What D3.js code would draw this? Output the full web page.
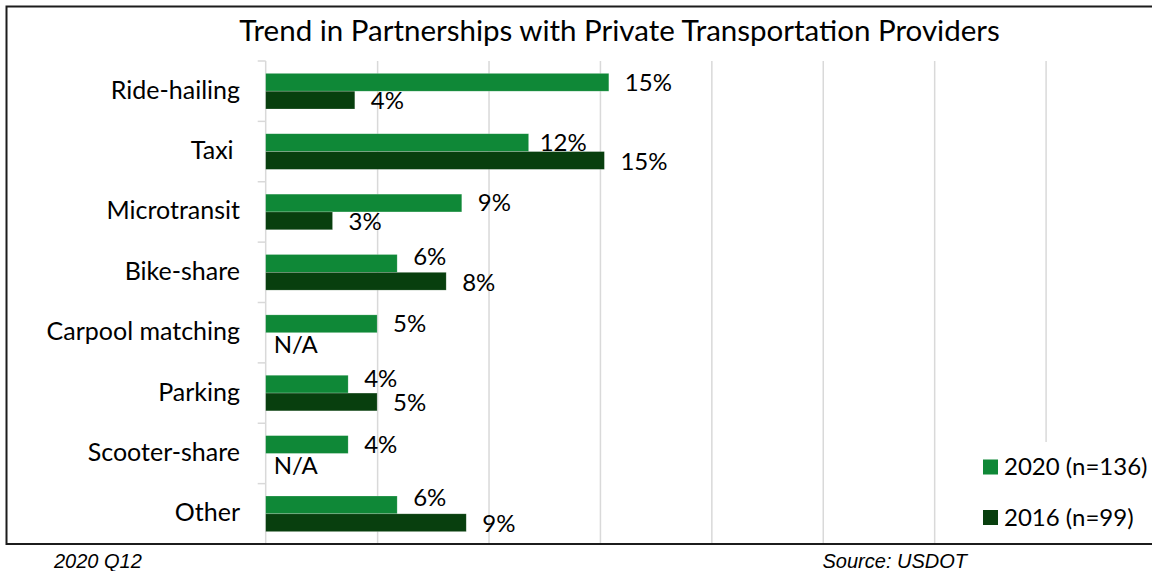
<!DOCTYPE html>
<html>
<head>
<meta charset="utf-8">
<script src="https://cdn.jsdelivr.net/npm/d3@7"></script>
<style>
  html, body { margin: 0; padding: 0; background: #fff; }
  svg { display: block; }
</style>
</head>
<body>
<svg id="chart" width="1152" height="571"></svg>
<script>
// Partnership categories, top to bottom
const categories = ["Ride-hailing", "Taxi\u00A0", "Microtransit", "Bike-share",
                    "Carpool matching", "Parking", "Scooter-share", "Other"];
// Share of agencies partnering, by survey year (null = not asked that year)
const values2020 = [0.154, 0.118, 0.088, 0.059, 0.050, 0.037, 0.037, 0.059];
const values2016 = [0.040, 0.152, 0.030, 0.081, null, 0.050, null, 0.090];
const seriesNames = ["2020 (n=136)", "2016 (n=99)"];
const xTicks = [0, 0.05, 0.10, 0.15, 0.20, 0.25, 0.30, 0.35, 0.40];
const titleText = "Trend in Partnerships with Private Transportation Providers";
const footLeft = "2020 Q12";
const footRight = "Source: USDOT";
const missingLabel = "N/A";

const colors = { "2020 (n=136)": "#0f8837", "2016 (n=99)": "#083f0e" };
const labelFont = "Lato, 'Open Sans', sans-serif";

const svg = d3.select("#chart");

const plot = { left: 265.7, right: 1157, top: 61, bottom: 544 };

const x = d3.scaleLinear().domain([0, 0.4]).range([plot.left, plot.right]);
const y = d3.scaleBand().domain(categories).range([plot.top, plot.bottom])
  .paddingInner(0.41).paddingOuter(0.205);
const ySeries = d3.scaleBand().domain(seriesNames).range([0, y.bandwidth()]);

// vertical gridlines
svg.append("g")
  .attr("transform", `translate(0,${plot.bottom})`)
  .call(d3.axisBottom(x).tickValues(xTicks.slice(1)).tickSize(-(plot.bottom - plot.top)).tickFormat(""))
  .call(g => g.select(".domain").remove())
  .call(g => g.selectAll(".tick line").attr("stroke", "#d9d9d9").attr("stroke-width", 1.5));

// category axis: line at zero with ticks on band boundaries
const axisG = svg.append("g");
axisG.append("line")
  .attr("x1", x(0)).attr("x2", x(0))
  .attr("y1", plot.top).attr("y2", plot.bottom)
  .attr("stroke", "#d9d9d9").attr("stroke-width", 1.5);
axisG.selectAll("line.tick")
  .data(d3.range(categories.length + 1).map(i => plot.top + i * y.step()))
  .join("line")
  .attr("class", "tick")
  .attr("x1", x(0) - 8).attr("x2", x(0))
  .attr("y1", d => d).attr("y2", d => d)
  .attr("stroke", "#d9d9d9").attr("stroke-width", 1.5);

axisG.selectAll("text.cat")
  .data(categories)
  .join("text")
  .attr("class", "cat")
  .attr("x", 240)
  .attr("y", d => y(d) + y.bandwidth() / 2)
  .attr("dy", "0.3em")
  .attr("text-anchor", "end")
  .attr("font-family", labelFont)
  .attr("font-size", 25)
  .attr("fill", "#000")
  .style("white-space", "pre")
  .text(d => d);

// flatten series
const rows = [];
categories.forEach((c, i) => {
  rows.push({ cat: c, series: seriesNames[0], value: values2020[i], other: values2016[i] });
  rows.push({ cat: c, series: seriesNames[1], value: values2016[i], other: values2020[i] });
});

// bars
svg.append("g").selectAll("rect")
  .data(rows.filter(d => d.value != null))
  .join("rect")
  .attr("x", x(0))
  .attr("y", d => y(d.cat) + ySeries(d.series))
  .attr("width", d => x(d.value) - x(0))
  .attr("height", ySeries.bandwidth())
  .attr("fill", d => colors[d.series])
  .attr("stroke", "rgba(255,255,255,0.35)")
  .attr("stroke-width", 0.6);

// hand-placed label nudges (2020 labels lifted where they sit above a longer 2016 bar)
const liftedLabels = { "Bike-share": -7, "Parking": -6, "Other": -7 };
const pct = d3.format(".0%");

svg.append("g").selectAll("text")
  .data(rows)
  .join("text")
  .attr("x", d => d.value == null ? x(0) + 8 : x(d.value) + 16 + (d.cat.startsWith("Taxi") && d.series === seriesNames[0] ? -5 : 0))
  .attr("y", d => y(d.cat) + ySeries(d.series) + ySeries.bandwidth() / 2
      + (d.series === seriesNames[0] ? (liftedLabels[d.cat] || 0) : (d.value == null ? 3 : 1)))
  .attr("dy", "0.35em")
  .attr("font-family", labelFont)
  .attr("font-size", 24)
  .attr("fill", "#000")
  .text(d => d.value == null ? missingLabel : pct(d.value));

// title
svg.append("text")
  .attr("x", 619.5).attr("y", 41)
  .attr("text-anchor", "middle")
  .attr("font-family", labelFont)
  .attr("font-size", 29.5)
  .attr("fill", "#000")
  .text(titleText);

// legend (white box hides gridlines behind it)
const legend = svg.append("g");
legend.append("rect")
  .attr("x", 962).attr("y", 442).attr("width", 200).attr("height", 101)
  .attr("fill", "#fff");
const legendItems = legend.selectAll("g.item")
  .data(seriesNames)
  .join("g")
  .attr("class", "item")
  .attr("transform", (d, i) => `translate(983,${467 + i * 50.5})`);
legendItems.append("rect")
  .attr("x", 0).attr("y", -7.5).attr("width", 15).attr("height", 15)
  .attr("fill", d => colors[d]);
legendItems.append("text")
  .attr("x", 21).attr("y", 0).attr("dy", "0.35em")
  .attr("font-family", labelFont)
  .attr("font-size", 24)
  .attr("fill", "#000")
  .text(d => d);

// outer frame
svg.append("rect")
  .attr("x", 6.5).attr("y", 6.5)
  .attr("width", 1200).attr("height", plot.bottom - 6.5)
  .attr("fill", "none")
  .attr("stroke", "#1c1c1c")
  .attr("stroke-width", 2);

// footnotes
svg.append("text")
  .attr("x", 54).attr("y", 568)
  .attr("font-family", "'Liberation Sans', Arial, sans-serif")
  .attr("font-style", "italic")
  .attr("font-size", 20)
  .attr("fill", "#000")
  .text(footLeft);
svg.append("text")
  .attr("x", 967).attr("y", 568)
  .attr("text-anchor", "end")
  .attr("font-family", "'Liberation Sans', Arial, sans-serif")
  .attr("font-style", "italic")
  .attr("font-size", 20)
  .attr("fill", "#000")
  .text(footRight);
</script>
</body>
</html>
